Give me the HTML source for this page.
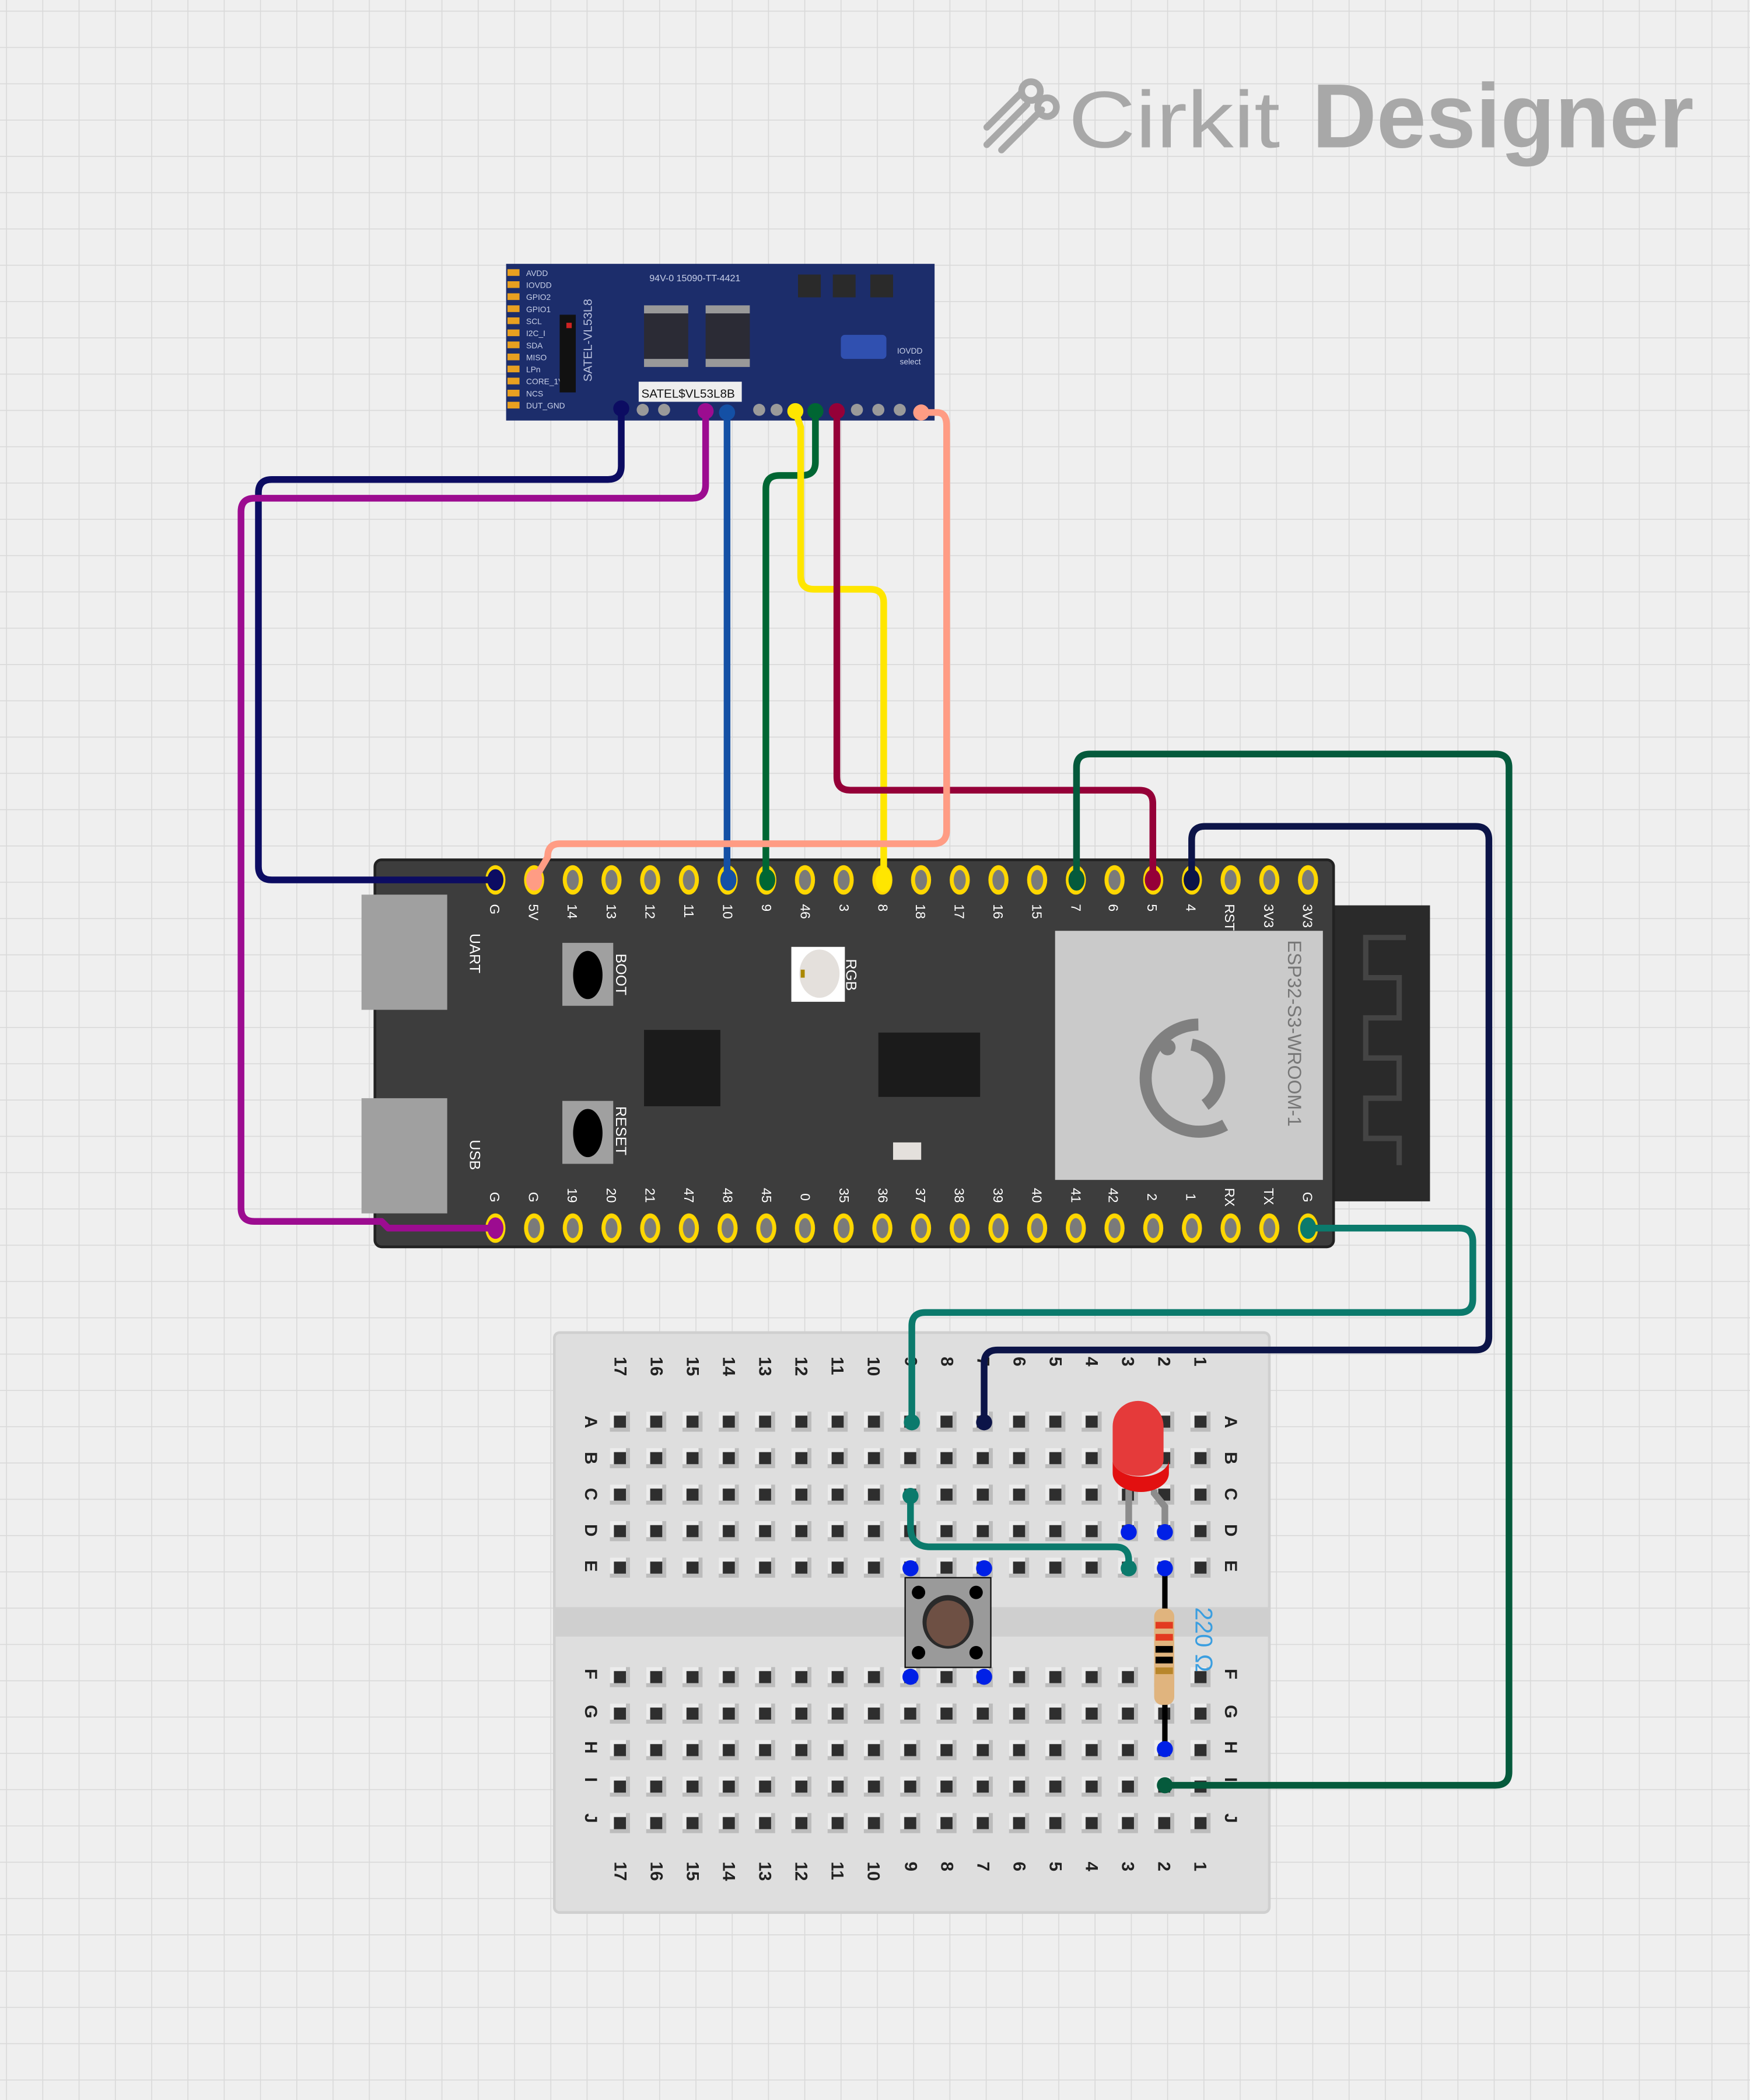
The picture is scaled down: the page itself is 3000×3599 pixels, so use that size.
<!DOCTYPE html>
<html><head><meta charset="utf-8"><style>html,body{margin:0;padding:0;background:#efefef}svg{display:block}text{font-family:"Liberation Sans",sans-serif}</style></head><body>
<svg width="3000" height="3599" viewBox="0 0 1307 1568" preserveAspectRatio="none" xmlns="http://www.w3.org/2000/svg">
<defs>
<pattern id="grid" x="4.5" y="8" width="27.1" height="27.1" patternUnits="userSpaceOnUse"><rect width="27.1" height="27.1" fill="#efefef"/><path d="M0 0V27.1M0 0H27.1" stroke="#d9d9d9" stroke-width="1.4"/></pattern>
<pattern id="pinT" x="355.5" y="637" width="28.9" height="40" patternUnits="userSpaceOnUse"><ellipse cx="14.5" cy="20" rx="7.5" ry="11" fill="#ffd700"/><ellipse cx="14.5" cy="20" rx="4.5" ry="7.5" fill="#7a7a7a"/></pattern>
<pattern id="pinB" x="355.5" y="897" width="28.9" height="40" patternUnits="userSpaceOnUse"><ellipse cx="14.5" cy="20" rx="7.5" ry="11" fill="#ffd700"/><ellipse cx="14.5" cy="20" rx="4.5" ry="7.5" fill="#7a7a7a"/></pattern>
<pattern id="hole" x="449.5" y="1048" width="27.1" height="27.25" patternUnits="userSpaceOnUse"><rect x="6" y="6" width="15" height="15" fill="#bcbcbc"/><rect x="6" y="6" width="12" height="12" fill="#ececec"/><rect x="9" y="9" width="9" height="9" fill="#2e2e2e"/></pattern>
</defs>
<rect width="1307" height="1568" fill="url(#grid)"/>
<!-- logo -->
<g fill="none" stroke="#a8a8a8" stroke-width="5" stroke-linecap="round"><path d="M737 108l30-30M737 95l25-25M748 112l30-30"/><circle cx="770" cy="68" r="7"/><circle cx="782" cy="80" r="7"/></g>
<text x="798" y="110" font-size="60" fill="#a8a8a8" textLength="158" lengthAdjust="spacingAndGlyphs">Cirkit</text>
<text x="980" y="110" font-size="68" fill="#a8a8a8" font-weight="700" textLength="285" lengthAdjust="spacingAndGlyphs">Designer</text>
<!-- sensor board -->
<rect x="378" y="197" width="320" height="117" fill="#1c2d6b"/>
<g fill="#e8a020"><rect x="379" y="201" width="9" height="5"/><rect x="379" y="210" width="9" height="5"/><rect x="379" y="219" width="9" height="5"/><rect x="379" y="228" width="9" height="5"/><rect x="379" y="237" width="9" height="5"/><rect x="379" y="246" width="9" height="5"/><rect x="379" y="255" width="9" height="5"/><rect x="379" y="264" width="9" height="5"/><rect x="379" y="273" width="9" height="5"/><rect x="379" y="282" width="9" height="5"/><rect x="379" y="291" width="9" height="5"/><rect x="379" y="300" width="9" height="5"/></g>
<g fill="#c8d0e8" font-size="6"><text x="393" y="206">AVDD</text><text x="393" y="215">IOVDD</text><text x="393" y="224">GPIO2</text><text x="393" y="233">GPIO1</text><text x="393" y="242">SCL</text><text x="393" y="251">I2C_I</text><text x="393" y="260">SDA</text><text x="393" y="269">MISO</text><text x="393" y="278">LPn</text><text x="393" y="287">CORE_1V8</text><text x="393" y="296">NCS</text><text x="393" y="305">DUT_GND</text></g>
<rect x="418" y="235" width="12" height="58" fill="#111"/><rect x="423" y="241" width="4" height="4" fill="#c22"/>
<text transform="translate(442 285) rotate(-90)" font-size="9" fill="#b8c0dd">SATEL-VL53L8</text>
<text x="485" y="210" font-size="7" fill="#c8d0e8">94V-0 15090-TT-4421</text>
<rect x="481" y="234" width="33" height="34" fill="#2b2b35"/><rect x="527" y="234" width="33" height="34" fill="#2b2b35"/>
<g fill="#999"><rect x="481" y="228" width="33" height="6"/><rect x="481" y="268" width="33" height="6"/><rect x="527" y="228" width="33" height="6"/><rect x="527" y="268" width="33" height="6"/></g>
<g fill="#2a2a2a"><rect x="596" y="205" width="17" height="17"/><rect x="622" y="205" width="17" height="17"/><rect x="650" y="205" width="17" height="17"/></g>
<rect x="628" y="250" width="34" height="18" rx="3" fill="#3050b0"/>
<text x="670" y="264" font-size="6" fill="#c8d0e8">IOVDD</text><text x="672" y="272" font-size="6" fill="#c8d0e8">select</text>
<rect x="477" y="285" width="77" height="15" fill="#eee"/><text x="479" y="297" font-size="9" fill="#111">SATEL$VL53L8B</text>
<g fill="#9a9a9a"><circle cx="480" cy="306" r="4.5"/><circle cx="496" cy="306" r="4.5"/><circle cx="567" cy="306" r="4.5"/><circle cx="580" cy="306" r="4.5"/><circle cx="640" cy="306" r="4.5"/><circle cx="656" cy="306" r="4.5"/><circle cx="672" cy="306" r="4.5"/></g>
<!-- ESP32 -->
<rect x="995" y="676" width="73" height="221" fill="#2a2a2a"/>
<path d="M1050 700h-30v30h25v30h-25v30h25v30h-25v30h25v20" fill="none" stroke="#444" stroke-width="4"/>
<rect x="280" y="642" width="716" height="289" rx="5" fill="#3d3d3d" stroke="#222" stroke-width="2"/>
<rect x="788" y="695" width="200" height="186" fill="#cacaca"/>
<g fill="none" stroke="#808080" stroke-width="9"><path d="M895 765a40 40 0 1 0 20 75"/><path d="M890 780a25 25 0 0 1 10 45"/></g><circle cx="872" cy="782" r="6" fill="#808080"/>
<text transform="translate(962 702) rotate(90)" font-size="14" fill="#777" font-family="Liberation Serif">ESP32-S3-WROOM-1</text>
<rect x="270" y="668" width="64" height="86" fill="#a0a0a0"/><rect x="270" y="820" width="64" height="86" fill="#a0a0a0"/>
<text transform="translate(351 697) rotate(90)" font-size="11" fill="#fff">UART</text>
<text transform="translate(351 851) rotate(90)" font-size="11" fill="#fff">USB</text>
<rect x="420" y="704" width="38" height="47" fill="#a0a0a0"/><ellipse cx="439" cy="728" rx="11" ry="18" fill="#000"/>
<rect x="420" y="822" width="38" height="47" fill="#a0a0a0"/><ellipse cx="439" cy="846" rx="11" ry="18" fill="#000"/>
<text transform="translate(460 712) rotate(90)" font-size="11" fill="#fff">BOOT</text>
<text transform="translate(460 826) rotate(90)" font-size="11" fill="#fff">RESET</text>
<rect x="591" y="707" width="40" height="41" fill="#fff"/><ellipse cx="612" cy="727" rx="15" ry="18" fill="#e4e0dc"/><rect x="598" y="724" width="3" height="6" fill="#a80"/>
<text transform="translate(632 716) rotate(90)" font-size="11" fill="#fff">RGB</text>
<rect x="481" y="769" width="57" height="57" fill="#1b1b1b"/>
<rect x="656" y="771" width="76" height="48" fill="#1b1b1b"/>
<rect x="667" y="853" width="21" height="13" fill="#e4e0dc"/>
<rect x="355.5" y="637" width="636" height="40" fill="url(#pinT)"/>
<rect x="355.5" y="897" width="636" height="40" fill="url(#pinB)"/>
<g font-size="10" fill="#fff">
<text transform="translate(366 675) rotate(90)">G</text><text transform="translate(395 675) rotate(90)">5V</text><text transform="translate(424 675) rotate(90)">14</text><text transform="translate(453 675) rotate(90)">13</text><text transform="translate(482 675) rotate(90)">12</text><text transform="translate(511 675) rotate(90)">11</text><text transform="translate(540 675) rotate(90)">10</text><text transform="translate(569 675) rotate(90)">9</text><text transform="translate(598 675) rotate(90)">46</text><text transform="translate(627 675) rotate(90)">3</text><text transform="translate(656 675) rotate(90)">8</text><text transform="translate(684 675) rotate(90)">18</text><text transform="translate(713 675) rotate(90)">17</text><text transform="translate(742 675) rotate(90)">16</text><text transform="translate(771 675) rotate(90)">15</text><text transform="translate(800 675) rotate(90)">7</text><text transform="translate(828 675) rotate(90)">6</text><text transform="translate(857 675) rotate(90)">5</text><text transform="translate(886 675) rotate(90)">4</text><text transform="translate(915 675) rotate(90)">RST</text><text transform="translate(944 675) rotate(90)">3V3</text><text transform="translate(973 675) rotate(90)">3V3</text>
<text transform="translate(366 890) rotate(90)">G</text><text transform="translate(395 890) rotate(90)">G</text><text transform="translate(424 887) rotate(90)">19</text><text transform="translate(453 887) rotate(90)">20</text><text transform="translate(482 887) rotate(90)">21</text><text transform="translate(511 887) rotate(90)">47</text><text transform="translate(540 887) rotate(90)">48</text><text transform="translate(569 887) rotate(90)">45</text><text transform="translate(598 891) rotate(90)">0</text><text transform="translate(627 887) rotate(90)">35</text><text transform="translate(656 887) rotate(90)">36</text><text transform="translate(684 887) rotate(90)">37</text><text transform="translate(713 887) rotate(90)">38</text><text transform="translate(742 887) rotate(90)">39</text><text transform="translate(771 887) rotate(90)">40</text><text transform="translate(800 887) rotate(90)">41</text><text transform="translate(828 887) rotate(90)">42</text><text transform="translate(857 891) rotate(90)">2</text><text transform="translate(886 891) rotate(90)">1</text><text transform="translate(915 887) rotate(90)">RX</text><text transform="translate(944 887) rotate(90)">TX</text><text transform="translate(973 890) rotate(90)">G</text>
</g>
<!-- breadboard -->
<rect x="414" y="995" width="534" height="433" rx="4" fill="#dedede" stroke="#cfcfcf" stroke-width="2"/>
<rect x="414" y="1200" width="534" height="22" fill="#cfcfcf"/>
<rect x="449.5" y="1048" width="461" height="136.25" fill="url(#hole)"/>
<rect x="449.5" y="1238" width="461" height="136.25" fill="url(#hole)"/>
<g font-size="13" fill="#222" font-family="Liberation Serif" font-weight="700">
<g id="nums"><text transform="translate(459 1013) rotate(90)">17</text><text transform="translate(486 1013) rotate(90)">16</text><text transform="translate(513 1013) rotate(90)">15</text><text transform="translate(540 1013) rotate(90)">14</text><text transform="translate(567 1013) rotate(90)">13</text><text transform="translate(594 1013) rotate(90)">12</text><text transform="translate(621 1013) rotate(90)">11</text><text transform="translate(648 1013) rotate(90)">10</text><text transform="translate(676 1013) rotate(90)">9</text><text transform="translate(703 1013) rotate(90)">8</text><text transform="translate(730 1013) rotate(90)">7</text><text transform="translate(757 1013) rotate(90)">6</text><text transform="translate(784 1013) rotate(90)">5</text><text transform="translate(811 1013) rotate(90)">4</text><text transform="translate(838 1013) rotate(90)">3</text><text transform="translate(865 1013) rotate(90)">2</text><text transform="translate(892 1013) rotate(90)">1</text></g>
<use href="#nums" y="377"/>
<g id="lets"><text transform="translate(437 1057) rotate(90)">A</text><text transform="translate(437 1084) rotate(90)">B</text><text transform="translate(437 1111) rotate(90)">C</text><text transform="translate(437 1138) rotate(90)">D</text><text transform="translate(437 1165) rotate(90)">E</text><text transform="translate(437 1246) rotate(90)">F</text><text transform="translate(437 1273) rotate(90)">G</text><text transform="translate(437 1300) rotate(90)">H</text><text transform="translate(437 1327) rotate(90)">I</text><text transform="translate(437 1354) rotate(90)">J</text></g>
<use href="#lets" x="478"/>
</g>
<!-- wires -->
<g fill="none" stroke-width="5" stroke-linecap="round" stroke-linejoin="round">
<path d="M464 305V348q0 10-10 10H203q-10 0-10 10V647q0 10 10 10H370" stroke="#0c0c62"/>
<path d="M527 307V362q0 10-10 10H190q-10 0-10 10V902q0 10 10 10H285l5 5H370" stroke="#9c0c90"/>
<path d="M543 308V657" stroke="#1450a5"/>
<path d="M609 307V345q0 10-10 10H582q-10 0-10 10V657" stroke="#006633"/>
<path d="M594 307l4 12V430q0 10 10 10H650q10 0 10 10V657" stroke="#ffe600"/>
<path d="M625 307V580q0 10 10 10H851q10 0 10 10V657" stroke="#950038"/>
<path d="M688 308H700q7 0 7 10V620q0 10-10 10H418q-9 0-9 10l-10 17" stroke="#ff9c84"/>
<path d="M804 657V573q0-10 10-10H1117q10 0 10 10V1323q0 10-10 10H870" stroke="#055a3c"/>
<path d="M890 657V627q0-10 10-10H1102q10 0 10 10V998q0 10-10 10H745q-10 0-10 10V1062" stroke="#0c1448"/>
<path d="M977 917H1090q10 0 10 10V970q0 10-10 10H691q-10 0-10 10V1062" stroke="#0b7a6c"/>
<path d="M680 1117V1140q0 15 15 15H833q10 0 10 10V1171" stroke="#0b7a6c"/>
</g>
<g><circle cx="464" cy="305" r="6" fill="#0c0c62"/><circle cx="527" cy="307" r="6" fill="#9c0c90"/><circle cx="543" cy="308" r="6" fill="#1450a5"/><circle cx="594" cy="307" r="6" fill="#ffe600"/><circle cx="609" cy="307" r="6" fill="#006633"/><circle cx="625" cy="307" r="6" fill="#950038"/><circle cx="688" cy="308" r="6" fill="#ff9c84"/>
<ellipse cx="370" cy="657" rx="6" ry="8" fill="#0c0c62"/><ellipse cx="399" cy="657" rx="6" ry="8" fill="#ff9c84"/><ellipse cx="544" cy="657" rx="6" ry="8" fill="#1450a5"/><ellipse cx="573" cy="657" rx="6" ry="8" fill="#006633"/><ellipse cx="660" cy="657" rx="6" ry="9" fill="#ffe600"/><ellipse cx="804" cy="657" rx="6" ry="8" fill="#055a3c"/><ellipse cx="861" cy="657" rx="6" ry="8" fill="#950038"/><ellipse cx="890" cy="657" rx="6" ry="8" fill="#0c1448"/><ellipse cx="370" cy="917" rx="6" ry="8" fill="#9c0c90"/><ellipse cx="977" cy="917" rx="6" ry="8" fill="#0b7a6c"/>
<circle cx="681" cy="1062" r="6" fill="#0b7a6c"/><circle cx="735" cy="1062" r="6" fill="#0c1448"/><circle cx="680" cy="1117" r="6" fill="#0b7a6c"/><circle cx="843" cy="1171" r="6" fill="#0b7a6c"/><circle cx="870" cy="1333" r="6" fill="#055a3c"/></g>
<!-- LED -->
<path d="M843 1144V1112M870 1144V1125l-8-10V1112" stroke="#8c8c8c" stroke-width="5" fill="none"/>
<path d="M831 1065a19 19 0 0 1 38 0V1090a19 12 0 0 1 -38 0Z" fill="#e53a3a"/>
<path d="M831 1090a20 12 0 0 0 42 0V1100a21 14 0 0 1 -42 0Z" fill="#e21010"/>
<!-- button -->
<rect x="676" y="1178" width="64" height="67" fill="#9a9a9a" stroke="#111"/>
<g fill="#000"><circle cx="686" cy="1189" r="5"/><circle cx="729" cy="1189" r="5"/><circle cx="686" cy="1234" r="5"/><circle cx="729" cy="1234" r="5"/></g>
<ellipse cx="708" cy="1211" rx="19" ry="20" fill="#2a2a2a"/><ellipse cx="708" cy="1212" rx="16" ry="17" fill="#6e5044"/>
<!-- resistor -->
<path d="M870 1171V1306" stroke="#000" stroke-width="4"/>
<rect x="862" y="1201" width="15" height="72" rx="6" fill="#e0b47e"/>
<rect x="863" y="1211" width="13" height="5" fill="#e33a20"/><rect x="863" y="1220" width="13" height="5" fill="#e33a20"/><rect x="863" y="1229" width="13" height="5" fill="#000"/><rect x="863" y="1237" width="13" height="5" fill="#000"/><rect x="863" y="1245" width="13" height="5" fill="#b8862b"/>
<text transform="translate(893 1200) rotate(90)" font-size="18" fill="#3a9ee0">220 Ω</text>
<g fill="#0020e6"><circle cx="843" cy="1144" r="6"/><circle cx="870" cy="1144" r="6"/><circle cx="870" cy="1171" r="6"/><circle cx="870" cy="1306" r="6"/><circle cx="680" cy="1171" r="6"/><circle cx="735" cy="1171" r="6"/><circle cx="680" cy="1252" r="6"/><circle cx="735" cy="1252" r="6"/></g>
</svg>
</body></html>
